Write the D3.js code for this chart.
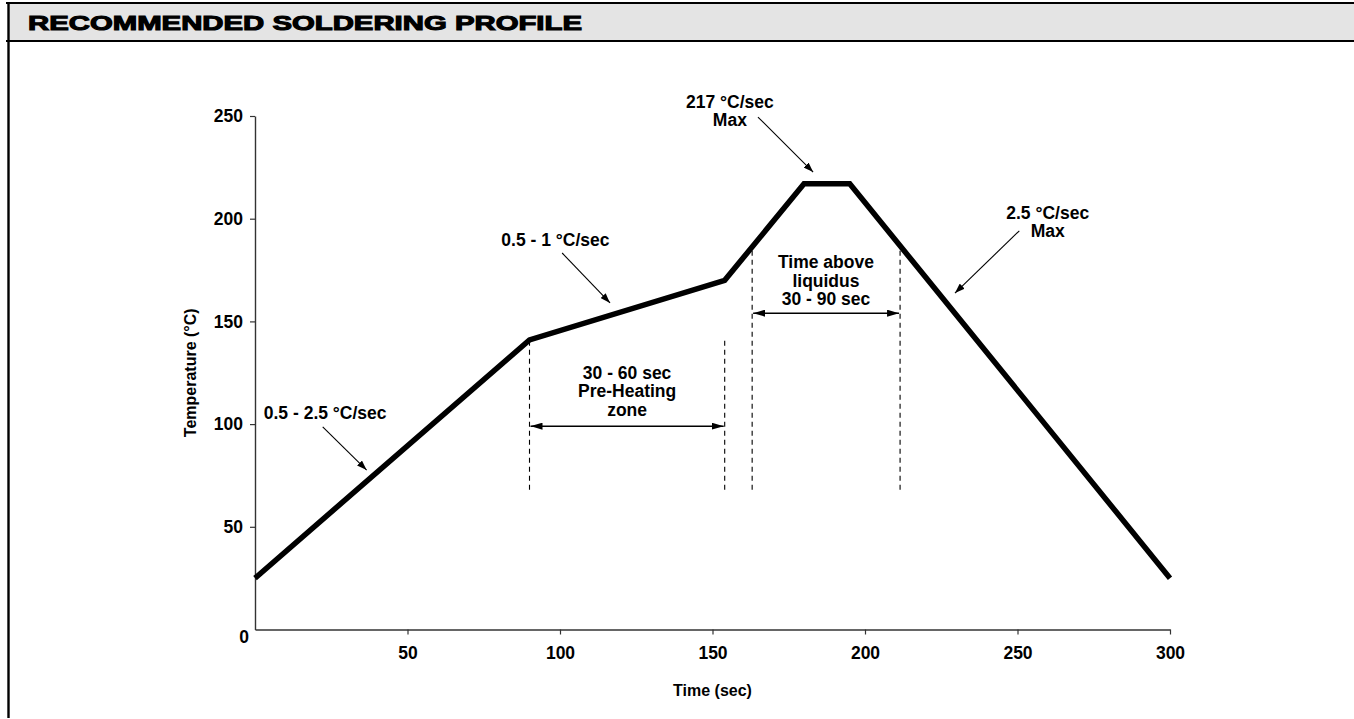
<!DOCTYPE html>
<html>
<head>
<meta charset="utf-8">
<script src="https://cdn.jsdelivr.net/npm/d3@7"></script>
<style>
  body { margin: 0; background: #fff; }
  svg { display: block; }
  text { font-family: "Liberation Sans", Arial, Helvetica, sans-serif; font-weight: bold; fill: #000; }
</style>
</head>
<body>
<svg id="chart" width="1354" height="719"></svg>
<script>
// Reflow profile: time (s) vs temperature (°C)
const timeSec = [0, 90, 154, 180, 195, 300];
const tempC   = [25, 141, 170, 217, 217, 25];

// Axis ticks
const xTicks = [50, 100, 150, 200, 250, 300];
const yTicks = [50, 100, 150, 200, 250];

// Zone boundaries (s) and their dashed-marker temperature spans (°C)
const preheatEdges  = [90, 154];
const preheatSpan   = [68, 142];
const liquidusEdges = [163, 211.5];
const liquidusSpan  = [68, 185];

// Double-headed range arrows: [t0, t1, temperature]
const preheatArrow  = [90, 154, 99];
const liquidusArrow = [163, 211.5, 154];

// Slope call-outs: text lines, label anchor (t, °C) and pointer (from -> to)
const callouts = [
  { lines: ["0.5 - 2.5 °C/sec"], at: [23, 105.4], from: [22.2, 98.7], to: [36.6, 77.6] },
  { lines: ["0.5 - 1 °C/sec"],   at: [98.5, 189.6], from: [100.7, 183.3], to: [116.4, 159] },
  { lines: ["217 °C/sec", "Max"], at: [155.7, 257], from: [164.9, 249.5], to: [183, 222.7] },
  { lines: ["2.5 °C/sec", "Max"], at: [259.9, 202.8], from: [250.6, 194.1], to: [229.5, 163.8] }
];

// Zone labels
const zoneLabels = [
  { lines: ["30 - 60 sec", "Pre-Heating", "zone"], at: [122, 124.9] },
  { lines: ["Time above", "liquidus", "30 - 90 sec"], at: [187.2, 178.9] }
];

const svg = d3.select("#chart");
const W = 1354, H = 719;
const lineGap = 18.5;

// Page frame: header band with title, left rule
svg.append("rect").attr("x", 8).attr("y", 3).attr("width", W - 8).attr("height", 38).attr("fill", "#e4e4e4");
svg.append("line").attr("x1", 6).attr("x2", W).attr("y1", 3).attr("y2", 3).attr("stroke", "#000").attr("stroke-width", 2.2);
svg.append("line").attr("x1", 6).attr("x2", W).attr("y1", 41).attr("y2", 41).attr("stroke", "#000").attr("stroke-width", 2.2);
svg.append("line").attr("x1", 8.5).attr("x2", 8.5).attr("y1", 2).attr("y2", 718).attr("stroke", "#000").attr("stroke-width", 2.4);
svg.append("text")
  .attr("x", 28).attr("y", 29.5)
  .attr("textLength", 554).attr("lengthAdjust", "spacingAndGlyphs")
  .style("font-size", "21px").style("stroke", "#000").style("stroke-width", 1.1)
  .text("RECOMMENDED SOLDERING PROFILE");

// Scales
const x = d3.scaleLinear().domain([0, 300]).range([255, 1170]);
const y = d3.scaleLinear().domain([0, 250]).range([629.5, 116]);

// Arrowhead markers
const defs = svg.append("defs");
function marker(id, len, wid) {
  defs.append("marker")
    .attr("id", id).attr("markerUnits", "userSpaceOnUse")
    .attr("viewBox", `0 0 ${len} ${wid}`)
    .attr("markerWidth", len).attr("markerHeight", wid)
    .attr("refX", len).attr("refY", wid / 2)
    .attr("orient", "auto-start-reverse")
    .append("path").attr("d", `M0,0 L${len},${wid / 2} L0,${wid} Z`).attr("fill", "#000");
}
marker("headThin", 10, 7);
marker("headRange", 12, 7);

// Axes
const axisColor = "#333";
const gx = svg.append("g").attr("transform", `translate(0,${y(0)})`)
  .call(d3.axisBottom(x).tickValues(xTicks).tickSize(5).tickSizeOuter(0).tickPadding(12));
const gy = svg.append("g").attr("transform", `translate(${x(0)},0)`)
  .call(d3.axisLeft(y).tickValues(yTicks).tickSize(5).tickSizeOuter(0).tickPadding(7));
[gx, gy].forEach(g => {
  g.select(".domain").attr("stroke", axisColor).attr("stroke-width", 1.4);
  g.selectAll(".tick line").attr("stroke", axisColor).attr("stroke-width", 1.2);
  g.selectAll(".tick text").style("font-size", "17.5px").style("font-family", '"Liberation Sans", Arial, sans-serif').style("font-weight", "bold").attr("fill", "#000");
});
// Shared origin label
svg.append("text").attr("x", x(0) - 11).attr("y", y(0) + 7).attr("text-anchor", "middle")
  .attr("dominant-baseline", "central").style("font-size", "17.5px").text("0");

// Axis titles
svg.append("text").attr("x", (x(0) + x(300)) / 2).attr("y", 690).attr("text-anchor", "middle")
  .attr("dominant-baseline", "central").style("font-size", "16px").text("Time (sec)");
svg.append("text").attr("transform", `translate(190,${(y(0) + y(250)) / 2}) rotate(-90)`)
  .attr("text-anchor", "middle").attr("dominant-baseline", "central").style("font-size", "16px")
  .text("Temperature (°C)");

// Dashed zone boundaries
function dashed(edges, span) {
  edges.forEach(t => {
    svg.append("line").attr("x1", x(t)).attr("x2", x(t)).attr("y1", y(span[0])).attr("y2", y(span[1]))
      .attr("stroke", "#000").attr("stroke-width", 1.1).attr("stroke-dasharray", "5,4");
  });
}
dashed(preheatEdges, preheatSpan);
dashed(liquidusEdges, liquidusSpan);

// Range arrows
[preheatArrow, liquidusArrow].forEach(a => {
  svg.append("line").attr("x1", x(a[0]) + 1).attr("x2", x(a[1]) - 1).attr("y1", y(a[2])).attr("y2", y(a[2]))
    .attr("stroke", "#000").attr("stroke-width", 1.5)
    .attr("marker-start", "url(#headRange)").attr("marker-end", "url(#headRange)");
});

// Profile curve
const profile = timeSec.map((t, i) => [t, tempC[i]]);
svg.append("path").datum(profile)
  .attr("d", d3.line().x(d => x(d[0])).y(d => y(d[1])))
  .attr("fill", "none").attr("stroke", "#000").attr("stroke-width", 5.5)
  .attr("stroke-linejoin", "miter").attr("stroke-linecap", "butt");

// Multi-line centred labels
function label(lines, at) {
  const t = svg.append("text").attr("text-anchor", "middle").style("font-size", "17.5px");
  lines.forEach((s, i) => {
    t.append("tspan").attr("x", x(at[0])).attr("y", y(at[1]) + i * lineGap)
      .attr("dominant-baseline", "central").text(s);
  });
}
zoneLabels.forEach(z => label(z.lines, z.at));

// Slope call-outs with pointers
callouts.forEach(c => {
  label(c.lines, c.at);
  svg.append("line").attr("x1", x(c.from[0])).attr("y1", y(c.from[1]))
    .attr("x2", x(c.to[0])).attr("y2", y(c.to[1]))
    .attr("stroke", "#000").attr("stroke-width", 1.1).attr("marker-end", "url(#headThin)");
});
</script>
</body>
</html>
